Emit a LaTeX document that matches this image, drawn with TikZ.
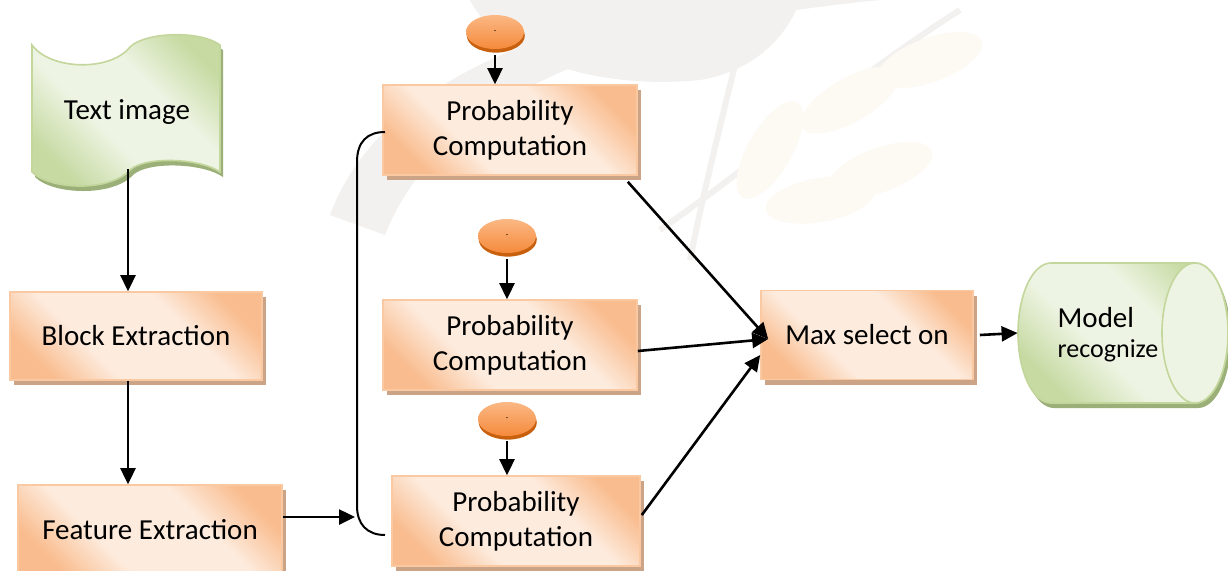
\documentclass[tikz,border=0pt]{standalone}
\usepackage{fontspec}
\setmainfont{Carlito}
\usepackage{xcolor}
\usetikzlibrary{arrows.meta, shapes.geometric, shadows, positioning}

\definecolor{camnhat}{HTML}{FDEBDD}
\definecolor{camdam}{HTML}{F9BC8E}
\definecolor{vienCam}{HTML}{FAC9A2}
\definecolor{bongCam}{HTML}{CBA386}
\definecolor{lanhat}{HTML}{EEF4E3}
\definecolor{ladam}{HTML}{C6DAA2}
\definecolor{vienLa}{HTML}{C3D69B}
\definecolor{bongLa}{HTML}{9BAF78}
\definecolor{nutsang}{HTML}{FBB884}
\definecolor{nuttoi}{HTML}{F58A3C}
\definecolor{vienNut}{HTML}{C8600E}
\definecolor{mo}{HTML}{F3F1EF}
\definecolor{mobe}{HTML}{FDFAF4}

\pgfdeclarehorizontalshading{camshade}{100bp}{color(0bp)=(camdam); color(24bp)=(camdam);
  color(38bp)=(camnhat); color(62bp)=(camnhat); color(76bp)=(camdam); color(100bp)=(camdam)}
\pgfdeclarehorizontalshading{lashade}{100bp}{color(0bp)=(ladam); color(25bp)=(ladam);
  color(42bp)=(lanhat); color(60bp)=(lanhat); color(76bp)=(ladam); color(100bp)=(ladam)}

\begin{document}
\begin{tikzpicture}[x=0.5pt, y=-0.5pt, >={Triangle[length=8pt,width=7.5pt]},
    hop/.style={rectangle, draw=vienCam, line width=0.8pt, shading=camshade, shading angle=45,
        minimum width=127pt, minimum height=45pt, align=center,
        font=\fontsize{14.5}{17.5}\selectfont,
        drop shadow={shadow xshift=2pt, shadow yshift=-2.5pt, fill=bongCam, opacity=1}},
    nut/.style={ellipse, minimum width=29pt, minimum height=17pt, inner sep=0pt,
        top color=nutsang, bottom color=nuttoi, font=\fontsize{4}{4}\selectfont,
        drop shadow={shadow xshift=0.4pt, shadow yshift=-1.8pt, fill=vienNut, opacity=1}},
    mui/.style={->, line width=1.3pt}]
    % Nền
    \useasboundingbox[fill=white] (0,0) rectangle (1228,570);

    % Hình mờ phía sau
    \fill[mo] (330,215) .. controls (380,80) and (560,10) .. (760,0) -- (880,0)
        .. controls (620,25) and (440,95) .. (385,235) -- cycle;
    \fill[mo] (470,0) .. controls (500,60) and (600,90) .. (700,80)
        .. controls (760,70) and (790,30) .. (800,0) -- cycle;
    \draw[mo, line width=3pt] (690,260) .. controls (710,160) and (735,70) .. (750,0);
    \draw[mo, line width=3pt] (660,230) .. controls (760,160) and (850,80) .. (960,10);
    \foreach \cx/\cy/\gx in {770/150/60, 850/100/30, 930/60/20, 820/200/10, 880/170/20}
        \fill[mobe, rotate around={\gx:(\cx,\cy)}] (\cx,\cy) ellipse[x radius=55, y radius=22];

    % Khối dữ liệu vào (băng đục lỗ)
    \path[draw=vienLa, line width=0.8pt, shading=lashade, shading angle=45,
          drop shadow={shadow xshift=1.5pt, shadow yshift=-2.5pt, fill=bongLa, opacity=1}]
        (32,45) .. controls (50,70) and (110,72) .. (130,47)
        .. controls (145,32) and (200,30) .. (220,45) -- (220,172)
        .. controls (200,158) and (145,156) .. (130,170)
        .. controls (110,192) and (50,190) .. (32,172) -- cycle;
    \node[font=\fontsize{14.5}{17.5}\selectfont] (ti) at (127,112) {Text image};
    \coordinate (tb) at (128,169);

    % Các bước xử lý
    \node[hop, minimum width=126pt, minimum height=44pt] (be) at (136,336) {Block Extraction};
    \node[hop, minimum width=132pt] (fe) at (150,530) {Feature Extraction};
    \node[hop] (p1) at (510,130) {Probability\\Computation};
    \node[hop] (p2) at (510,345) {Probability\\Computation};
    \node[hop, minimum width=124pt] (p3) at (516,521) {Probability\\Computation};
    \node[hop, minimum width=106pt, minimum height=44.5pt] (mx) at (867,335) {Max select on};

    % Các nút đầu vào
    \node[nut] (e1) at (495,32) {-};
    \node[nut] (e2) at (507,236) {-};
    \node[nut] (e3) at (507,419) {-};

    % Khối trụ kết quả
    \path[draw=vienLa, line width=0.8pt, shading=lashade, shading angle=45,
          drop shadow={shadow xshift=1.5pt, shadow yshift=-2.5pt, fill=bongLa, opacity=1}]
        (1195,263) -- (1051,263) arc[start angle=-90, end angle=-270, x radius=33, y radius=70]
        -- (1195,403) arc[start angle=90, end angle=-90, x radius=33, y radius=70] -- cycle;
    \draw[vienLa, line width=0.8pt, fill=lanhat] (1195,333) ellipse[x radius=33, y radius=70];
    \node[minimum width=105pt, minimum height=70pt] (mr) at (1123,333) {};
    \node[align=left, inner sep=0pt] (mrt) at (1108,335)
        {\fontsize{14.5}{17}\selectfont Model\\[3pt]\fontsize{13}{17}\selectfont recognize};

    % Mũi tên
    \draw[mui] (tb) -- (tb |- be.north);
    \draw[mui] (tb |- be.south) -- (tb |- fe.north);
    \coordinate (fin) at (355,517);
    \draw[mui] (fe.east |- fin) -- (fin);
    \draw[mui] (e1.south |- 0,55) -- (e1.south |- p1.north);
    \draw[mui] (e2.south |- 0,259) -- (e2.south |- p2.north);
    \draw[mui] (e3.south |- 0,441) -- (e3.south |- p3.north);
    \draw[mui] ([shift={(-10,6)}]p1.south east) -- ([shift={(8,4)}]mx.west);
    \draw[mui] ([shift={(0,6)}]p2.east) -- ([shift={(8,4)}]mx.west);
    \draw[mui] ([shift={(1,-6)}]p3.east) -- ([shift={(0,20)}]mx.west);
    \draw[mui] ([xshift=3]mx.east) -- (mr.west);

    % Ngoặc nối các khối xác suất
    \coordinate (bt) at (385,132);
    \coordinate (bb) at (385,535);
    \draw[line width=1pt] (bt) .. controls (367,132) and (357,142) .. (357,162)
        -- (357,506) .. controls (357,524) and (367,535) .. (bb);
\end{tikzpicture}
\end{document}
